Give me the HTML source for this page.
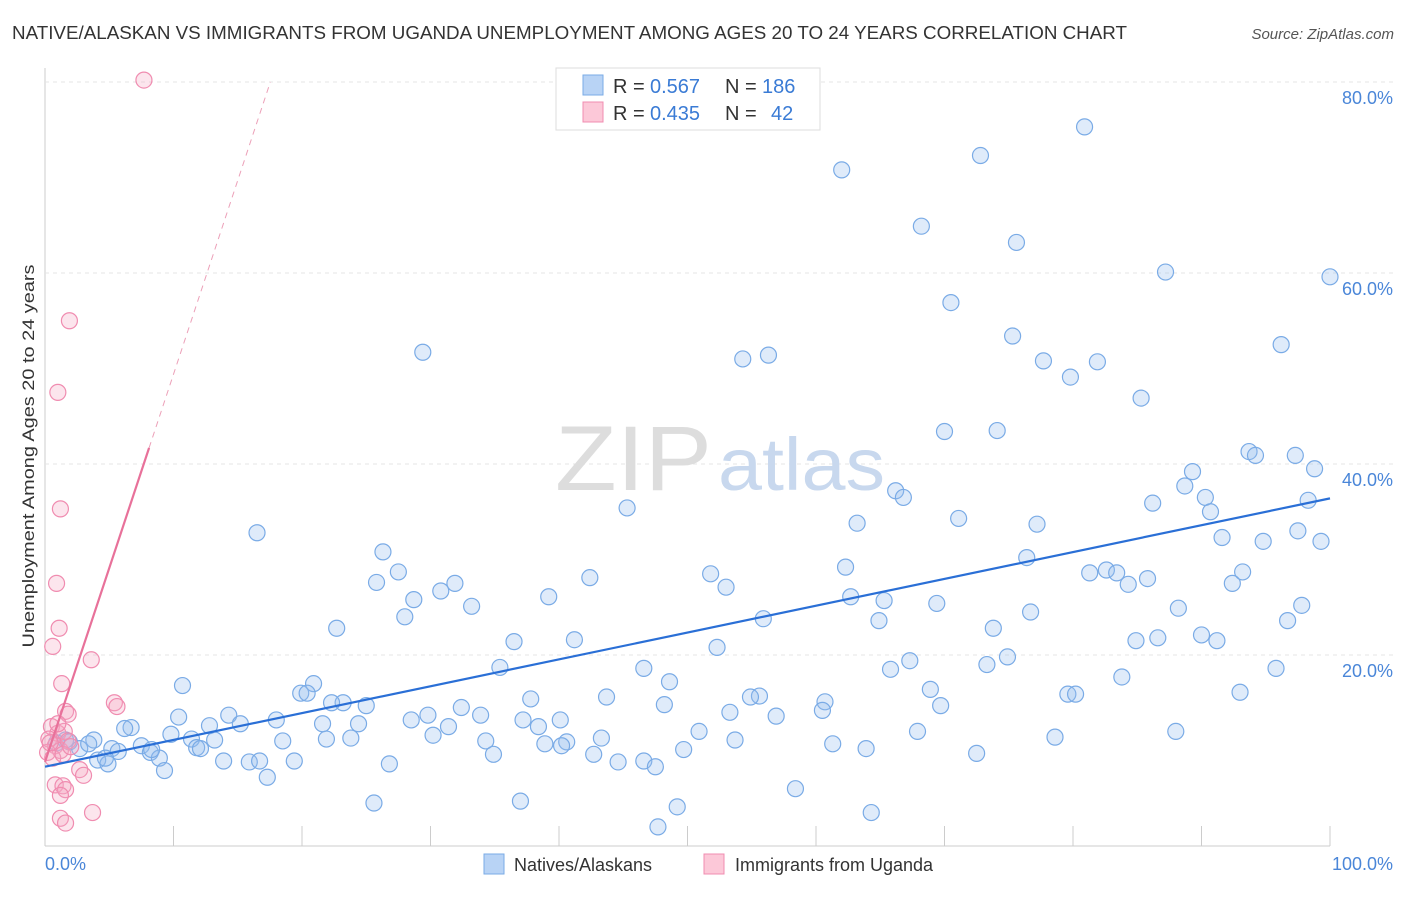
<!DOCTYPE html>
<html><head><meta charset="utf-8">
<style>
body{margin:0;background:#fff;font-family:"Liberation Sans",sans-serif;}
svg text{font-family:"Liberation Sans",sans-serif;}
</style></head>
<body>
<svg id="chart" width="1406" height="892" viewBox="0 0 1406 892" xmlns="http://www.w3.org/2000/svg">
<text x="12" y="39" font-size="18" fill="#333" textLength="1115" lengthAdjust="spacingAndGlyphs">NATIVE/ALASKAN VS IMMIGRANTS FROM UGANDA UNEMPLOYMENT AMONG AGES 20 TO 24 YEARS CORRELATION CHART</text>
<text x="1394" y="39" font-size="15" fill="#555" text-anchor="end" font-style="italic">Source: ZipAtlas.com</text>
<g id="grid"></g>
<g id="watermark">
<text x="555" y="490" font-size="92" fill="#ddd" textLength="157" lengthAdjust="spacingAndGlyphs" font-family="Liberation Serif, serif">ZIP</text>
<text x="718" y="490" font-size="74" fill="#c8d8ee" textLength="167" lengthAdjust="spacingAndGlyphs">atlas</text>
</g>
<g id="points"></g>
<g id="trends"></g>
<text transform="translate(34,456) rotate(-90)" font-size="17" fill="#333" text-anchor="middle" textLength="383" lengthAdjust="spacingAndGlyphs">Unemployment Among Ages 20 to 24 years</text>
<text x="45" y="870" font-size="18" fill="#4a86d8">0.0%</text>
<text x="1393" y="870" font-size="18" fill="#4a86d8" text-anchor="end">100.0%</text>
<g>
<rect x="556" y="68" width="264" height="62" fill="#fff" stroke="#ddd"/>
<rect x="583" y="75" width="20" height="20" fill="#b8d3f5" stroke="#7aabe6"/>
<rect x="583" y="102" width="20" height="20" fill="#fcc8d8" stroke="#f08cb0"/>
<text x="613" y="93" font-size="20" fill="#333">R =</text>
<text x="650" y="93" font-size="20" fill="#3a7bd5">0.567</text>
<text x="725" y="93" font-size="20" fill="#333">N =</text>
<text x="762" y="93" font-size="20" fill="#3a7bd5">186</text>
<text x="613" y="120" font-size="20" fill="#333">R =</text>
<text x="650" y="120" font-size="20" fill="#3a7bd5">0.435</text>
<text x="725" y="120" font-size="20" fill="#333">N =</text>
<text x="771" y="120" font-size="20" fill="#3a7bd5">42</text>
</g>
<g>
<rect x="484" y="854" width="20" height="20" fill="#b8d3f5" stroke="#7aabe6"/>
<text x="514" y="871" font-size="18" fill="#333">Natives/Alaskans</text>
<rect x="704" y="854" width="20" height="20" fill="#fcc8d8" stroke="#f08cb0"/>
<text x="735" y="871" font-size="18" fill="#333">Immigrants from Uganda</text>
</g>
</svg>
<script>
const yTicks=[20,40,60,80];
const yTickLabels=["20.0%","40.0%","60.0%","80.0%"];
const xTicks=[10,20,30,40,50,60,70,80,90,100];
const blueX=[80.9,62.0,72.8,68.2,75.6,87.2,100.0,70.5,75.3,54.3,56.3,29.4,77.7,81.9,79.8,96.2,85.3,70.0,74.1,93.7,94.2,97.3,98.8,89.3,88.7,90.3,98.3,66.2,66.8,86.2,90.7,45.3,16.5,71.1,63.2,77.2,97.5,91.6,94.8,99.3,26.3,76.4,62.3,27.5,25.8,51.8,42.4,31.9,30.8,53.0,81.3,82.6,83.4,85.8,84.3,93.2,92.4,28.7,39.2,33.2,62.7,65.3,69.4,28.0,97.8,88.2,76.7,55.9,64.9,22.7,73.8,96.7,36.5,41.2,90.0,84.9,86.6,91.2,52.3,35.4,74.9,67.3,73.3,46.6,65.8,95.8,10.7,20.9,19.9,20.4,48.6,83.8,68.9,93.0,43.7,37.8,23.2,25.0,22.3,55.6,54.9,60.7,79.6,80.2,48.2,60.5,69.7,10.4,32.4,29.8,33.9,14.3,28.5,40.1,37.2,53.3,56.9,18.0,24.4,15.2,12.8,21.6,38.4,31.4,6.7,6.2,9.8,3.8,11.4,11.8,13.2,18.5,34.3,43.3,21.9,23.8,30.2,50.9,53.7,67.9,78.6,88.0,1.6,1.9,0.9,2.7,3.4,5.2,5.7,7.5,8.2,12.1,8.9,4.1,4.9,4.7,8.3,40.6,38.9,40.2,34.9,42.7,61.3,63.9,49.7,72.5,15.9,13.9,16.7,19.4,46.6,44.6,47.5,9.3,26.8,17.3,58.4,25.6,37.0,49.2,64.3,47.7];
const blueY=[75.3,70.8,72.3,64.9,63.2,60.1,59.6,56.9,53.4,51.0,51.4,51.7,50.8,50.7,49.1,52.5,46.9,43.4,43.5,41.3,40.9,40.9,39.5,39.2,37.7,36.5,36.2,37.2,36.5,35.9,35.0,35.4,32.8,34.3,33.8,33.7,33.0,32.3,31.9,31.9,30.8,30.2,29.2,28.7,27.6,28.5,28.1,27.5,26.7,27.1,28.6,28.9,28.6,28.0,27.4,28.7,27.5,25.8,26.1,25.1,26.1,25.7,25.4,24.0,25.2,24.9,24.5,23.8,23.6,22.8,22.8,23.6,21.4,21.6,22.1,21.5,21.8,21.5,20.8,18.7,19.8,19.4,19.0,18.6,18.5,18.6,16.8,17.0,16.0,16.0,17.2,17.7,16.4,16.1,15.6,15.4,15.0,14.7,15.0,15.7,15.6,15.1,15.9,15.9,14.8,14.2,14.7,13.5,14.5,13.7,13.7,13.7,13.2,13.2,13.2,14.0,13.6,13.2,12.8,12.8,12.6,12.8,12.5,12.5,12.4,12.3,11.7,11.1,11.2,10.3,11.1,11.0,11.0,11.3,11.2,11.3,11.6,12.0,11.1,12.0,11.4,12.0,11.1,10.9,10.8,10.2,10.7,10.2,9.9,10.5,9.8,10.2,9.2,9.0,8.6,9.2,10.1,10.9,10.7,10.5,9.6,9.6,10.7,10.2,10.1,9.7,8.8,8.9,8.9,8.9,8.9,8.8,8.3,7.9,8.6,7.2,6.0,4.5,4.7,4.1,3.5,2.0];
const pinkX=[7.7,1.9,1.0,1.2,0.9,1.1,0.6,3.6,1.3,1.6,1.8,5.4,5.6,2.7,3.0,0.5,1.0,0.3,1.5,0.8,1.2,0.2,0.6,1.8,1.4,0.4,2.0,1.0,0.8,1.4,1.6,1.2,3.7,1.2,1.6];
const pinkY=[80.2,55.0,47.5,35.3,27.5,22.8,20.9,19.5,17.0,14.1,13.8,15.0,14.6,8.0,7.4,12.5,11.8,11.2,12.0,10.5,10.0,9.8,9.2,11.0,9.6,10.8,10.4,12.8,6.4,6.3,5.9,5.3,3.5,2.9,2.4];
const blueTrend=[8.3,36.4];
const pinkTrend=[8.8,4.06];
const X=v=>45+v*12.85, Y=v=>846-v*9.55;
const NS="http://www.w3.org/2000/svg";
function mk(tag,attrs,parent){const e=document.createElementNS(NS,tag);for(const k in attrs)e.setAttribute(k,attrs[k]);parent.appendChild(e);return e;}
const grid=document.getElementById('grid');
mk('line',{x1:45,y1:68,x2:45,y2:846,stroke:'#ccc'},grid);
mk('line',{x1:45,y1:846,x2:1330,y2:846,stroke:'#ccc'},grid);
yTicks.forEach((t,i)=>{
 const l=mk('line',{x1:45,y1:Y(t),x2:1394,y2:Y(t),stroke:'#e4e4e4','stroke-dasharray':'4,4'},grid);
 
 
 const tx=mk('text',{x:1393,y:Y(t)+22,'font-size':18,fill:'#4a86d8','text-anchor':'end'},grid);
 tx.textContent=yTickLabels[i];
 
 
});
xTicks.forEach(t=>{
 const l=mk('line',{x1:X(t),y1:826,x2:X(t),y2:846,stroke:'#ccc'},grid);
 
 
});
const pts=document.getElementById('points');
blueX.forEach((x,i)=>{
 const c=mk('circle',{cx:X(x),cy:Y(blueY[i]),r:8,fill:'rgba(150,190,240,0.3)',stroke:'#7aabe6','stroke-width':1.2},pts);
 
 
});
pinkX.forEach((x,i)=>{
 const c=mk('circle',{cx:X(x),cy:Y(pinkY[i]),r:8,fill:'rgba(245,170,195,0.3)',stroke:'#f08cb0','stroke-width':1.2},pts);
 
 
});
const tr=document.getElementById('trends');
const bl=mk('line',{x1:X(0),y1:Y(blueTrend[0]),x2:X(100),y2:Y(blueTrend[1]),stroke:'#2a6fd6','stroke-width':2.2},tr);


const pe=8.1, pEnd=(80-pinkTrend[0])/pinkTrend[1];
const ps=mk('line',{x1:X(0),y1:Y(pinkTrend[0]),x2:X(pe),y2:Y(pinkTrend[0]+pinkTrend[1]*pe),stroke:'#e8719a','stroke-width':2.2},tr);


const pd=mk('line',{x1:X(pe),y1:Y(pinkTrend[0]+pinkTrend[1]*pe),x2:X(pEnd),y2:Y(80),stroke:'#eca0b8','stroke-width':1,'stroke-dasharray':'6,5'},tr);


</script>
</body></html>
